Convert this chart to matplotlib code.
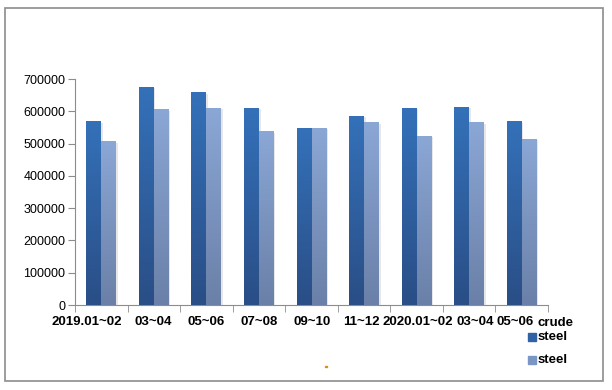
import numpy as np
import matplotlib
matplotlib.use("Agg")
import matplotlib.pyplot as plt
from matplotlib.colors import LinearSegmentedColormap
from matplotlib.patches import Rectangle

periods = ["2019.01~02", "03~04", "05~06", "07~08", "09~10", "11~12",
           "2020.01~02", "03~04", "05~06"]
crude_steel = [567000, 675000, 659000, 610000, 548000, 585000, 610000, 613000, 567000]
steel = [505000, 604000, 610000, 536000, 548000, 564000, 523000, 564000, 514000]
# labels are nudged sideways so the long ones don't collide (like the source chart)
label_shift = [-0.27, -0.02, 0.0, 0.01, 0.01, -0.06, 0.03, 0.11, -0.13]

plt.rcParams["font.family"] = ["Liberation Sans", "DejaVu Sans"]

fig = plt.figure(figsize=(6.12, 3.9), dpi=100)
fig.patches.append(Rectangle((5 / 612, 1 - 381 / 390), 598 / 612, 373 / 390,
                             transform=fig.transFigure, fill=False,
                             edgecolor="#8c8c8c", lw=1.2))
ax = fig.add_axes([75 / 612, 1 - 305 / 390, 473 / 612, 226 / 390])

x = np.arange(len(periods))
w = 0.285
dark = LinearSegmentedColormap.from_list("dk", ["#2a4e86", "#3471b9"])
light = LinearSegmentedColormap.from_list("lt", ["#6a80a8", "#8ba7d5"])
grad = np.linspace(0, 1, 256).reshape(-1, 1)

for vals, off, cmap in [(crude_steel, -w / 2, dark), (steel, w / 2, light)]:
    bars = ax.bar(x + off, vals, w, color="none", zorder=3)
    for b in bars:
        bx, bw, bh = b.get_x(), b.get_width(), b.get_height()
        # soft shadow on the right
        ax.add_patch(Rectangle((bx + 0.03, 0), bw, bh - 4000, color="#d8d8d8",
                               alpha=0.6, zorder=1, lw=0))
        ax.imshow(grad, cmap=cmap, origin="lower", aspect="auto",
                  extent=(bx, bx + bw, 0, bh), zorder=3)

ax.set_xlim(-0.5, len(periods) - 0.5)
ax.set_ylim(0, 700000)
ax.set_yticks(range(0, 700001, 100000))
ax.set_yticklabels([str(v) for v in range(0, 700001, 100000)], fontsize=9)
ax.set_xticks(x + np.array(label_shift))
ax.set_xticklabels(periods, fontsize=9.5, fontweight="bold")
ax.tick_params(axis="x", length=0, pad=8)
ax.set_xticks(np.arange(len(periods) + 1) - 0.5, minor=True)
ax.tick_params(axis="x", which="minor", length=5, color="#8c8c8c")
ax.tick_params(axis="y", length=5, color="#8c8c8c", pad=2)
for s in ("top", "right"):
    ax.spines[s].set_visible(False)
for s in ("left", "bottom"):
    ax.spines[s].set_color("#8c8c8c")

# legend
fig.text(537 / 612, 1 - 323 / 390, "crude", fontsize=9.5, fontweight="bold",
         va="center", ha="left")
for yy, col in [(337, "#2f63a6"), (360, "#7b95c4")]:
    fig.patches.append(Rectangle((528 / 612, 1 - (yy + 4) / 390), 8 / 612, 8 / 390,
                                 transform=fig.transFigure, color=col))
    fig.text(538 / 612, 1 - yy / 390, "steel", fontsize=9.5, fontweight="bold",
             va="center", ha="left")

fig.patches.append(Rectangle((325 / 612, 1 - 367 / 390), 2 / 612, 1.5 / 390,
                             transform=fig.transFigure, color="#e08a1e"))

fig.savefig("out.png", dpi=100, facecolor="white")
